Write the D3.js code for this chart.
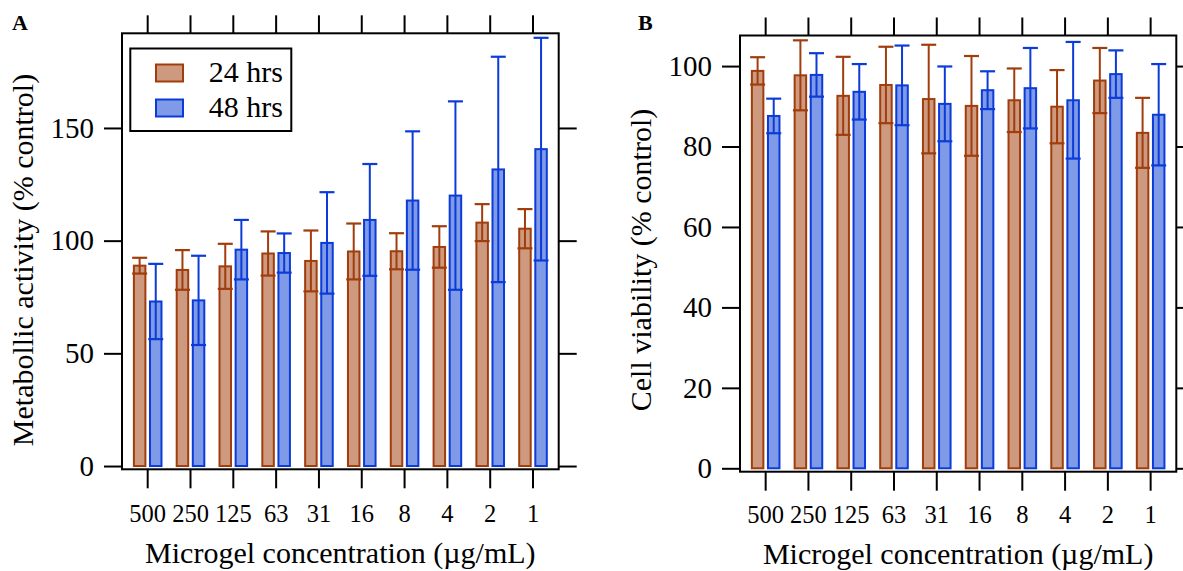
<!DOCTYPE html>
<html>
<head>
<meta charset="utf-8">
<script src="https://cdn.jsdelivr.net/npm/d3@7"></script>
<style>
  html, body { margin: 0; padding: 0; background: #fff; }
  svg { display: block; }
  text { font-family: "Liberation Serif", "DejaVu Serif", serif; fill: #000; }
</style>
</head>
<body>
<svg id="chart" width="1183" height="571"></svg>
<script>
// ---------- data ----------
const categories = ["500", "250", "125", "63", "31", "16", "8", "4", "2", "1"];
const seriesNames = ["24 hrs", "48 hrs"];

// Panel A: metabolic activity (% control)
const metab24 = [88.9, 87.0, 88.6, 94.3, 91.0, 95.2, 95.3, 97.2, 108.0, 105.3];
const metab24Err = [3.5, 8.8, 10.0, 9.8, 13.5, 12.4, 8.0, 9.2, 8.2, 8.7];
const metab48 = [73.0, 73.5, 96.0, 94.5, 99.0, 109.2, 117.8, 120.0, 131.6, 140.6];
const metab48Err = [16.7, 19.8, 13.2, 8.7, 22.5, 24.8, 30.7, 41.8, 50.0, 49.4];

// Panel B: cell viability (% control)
const viab24 = [98.8, 97.7, 92.6, 95.3, 91.8, 90.1, 91.5, 89.9, 96.4, 83.4];
const viab24Err = [3.4, 8.7, 9.7, 9.5, 13.5, 12.4, 7.9, 9.1, 8.1, 8.7];
const viab48 = [87.6, 97.8, 93.6, 95.2, 90.6, 94.0, 94.5, 91.5, 98.0, 87.9];
const viab48Err = [4.3, 5.4, 6.9, 9.9, 9.3, 4.7, 10.0, 14.5, 5.9, 12.6];

const ticksA = [0, 50, 100, 150];
const ticksB = [0, 20, 40, 60, 80, 100];

// ---------- styles ----------
const colors = {
  fill: ["#cd9a80", "#7f9be8"],
  stroke: ["#a13d0c", "#0b3bd8"]
};
const svg = d3.select("#chart");

function panel(opts) {
  const { x0, x1, yTop, yBot, yDomain, ticks, s24, e24, s48, e48, yLabel, letter, letterX, yLabelX, xLabelY, xTickY } = opts;
  const x = d3.scaleBand().domain(categories).range([x0, x1]).paddingInner(0).paddingOuter(0.1);
  const y = d3.scaleLinear().domain(yDomain).range([yBot, yTop]);
  const g = svg.append("g");

  const series = [
    { vals: s24, errs: e24, off: -13.8 },
    { vals: s48, errs: e48, off: 2.3 }
  ];
  const bw = 11.5, capHalf = 7.5;

  series.forEach((s, si) => {
    const data = categories.map((c, i) => ({ c, v: s.vals[i], e: s.errs[i] }));
    const sg = g.append("g");
    sg.selectAll("rect").data(data).join("rect")
      .attr("x", d => x(d.c) + x.bandwidth() / 2 + s.off)
      .attr("width", bw)
      .attr("y", d => y(d.v))
      .attr("height", d => y(0) - y(d.v))
      .attr("fill", colors.fill[si])
      .attr("stroke", colors.stroke[si])
      .attr("stroke-width", 2);
    const cx = d => x(d.c) + x.bandwidth() / 2 + s.off + bw / 2;
    sg.selectAll("line.v").data(data).join("line").attr("class", "v")
      .attr("x1", cx).attr("x2", cx)
      .attr("y1", d => y(d.v - d.e)).attr("y2", d => y(d.v + d.e))
      .attr("stroke", colors.stroke[si]).attr("stroke-width", 2);
    ["top", "bot"].forEach(k => {
      sg.selectAll("line." + k).data(data).join("line").attr("class", k)
        .attr("x1", d => cx(d) - capHalf).attr("x2", d => cx(d) + capHalf)
        .attr("y1", d => y(k === "top" ? d.v + d.e : d.v - d.e))
        .attr("y2", d => y(k === "top" ? d.v + d.e : d.v - d.e))
        .attr("stroke", colors.stroke[si]).attr("stroke-width", 2.2);
    });
  });

  // frame
  g.append("rect").attr("x", x0).attr("y", yTop).attr("width", x1 - x0).attr("height", yBot - yTop)
    .attr("fill", "none").attr("stroke", "#000").attr("stroke-width", 2);

  // axes
  const left = g.append("g").attr("transform", `translate(${x0},0)`)
    .call(d3.axisLeft(y).tickValues(ticks).tickSize(18).tickPadding(10));
  const right = g.append("g").attr("transform", `translate(${x1},0)`)
    .call(d3.axisRight(y).tickValues(ticks).tickSize(18).tickFormat(""));
  const top = g.append("g").attr("transform", `translate(0,${yTop})`)
    .call(d3.axisTop(x).tickSize(18).tickFormat(""));
  const bottom = g.append("g").attr("transform", `translate(0,${yBot})`)
    .call(d3.axisBottom(x).tickSize(19));
  [left, right, top, bottom].forEach(a => {
    a.select(".domain").remove();
    a.selectAll(".tick line").attr("stroke", "#000").attr("stroke-width", 2);
    a.selectAll("text").style("font-family", '"Liberation Serif", serif').attr("fill", "#000");
  });
  left.selectAll("text").style("font-size", "29px").attr("dy", "0.32em");
  bottom.selectAll("text").style("font-size", "24.5px").attr("y", xTickY).attr("dy", 0);

  // labels
  g.append("text").attr("x", (x0 + x1) / 2).attr("y", xLabelY).attr("text-anchor", "middle")
    .style("font-size", "30px").text("Microgel concentration (\u00b5g/mL)");
  g.append("text").attr("transform", `translate(${yLabelX},260) rotate(-90)`).attr("text-anchor", "middle")
    .style("font-size", "30px").text(yLabel);
  g.append("text").attr("x", letterX).attr("y", 30).style("font-size", "22px").style("font-weight", "bold")
    .text(letter);
  return { x, y, g };
}

panel({
  x0: 122, x1: 558.7, yTop: 33.3, yBot: 469.3, yDomain: [-1.45, 192], ticks: ticksA,
  s24: metab24, e24: metab24Err, s48: metab48, e48: metab48Err,
  yLabel: "Metabollic activity (% control)", letter: "A", letterX: 12, yLabelX: 33, xLabelY: 563, xTickY: 52.4
});
panel({
  x0: 740, x1: 1176.3, yTop: 35.5, yBot: 471.7, yDomain: [-0.845, 107.6], ticks: ticksB,
  s24: viab24, e24: viab24Err, s48: viab48, e48: viab48Err,
  yLabel: "Cell viability (% control)", letter: "B", letterX: 638, yLabelX: 651, xLabelY: 564, xTickY: 51.6
});

// legend (panel A)
const lg = svg.append("g");
lg.append("rect").attr("x", 130.3).attr("y", 48.5).attr("width", 161).attr("height", 82.5)
  .attr("fill", "#fff").attr("stroke", "#000").attr("stroke-width", 2);
seriesNames.forEach((n, i) => {
  lg.append("rect").attr("x", 156).attr("y", 64.5 + i * 35).attr("width", 27).attr("height", 17)
    .attr("fill", colors.fill[i]).attr("stroke", colors.stroke[i]).attr("stroke-width", 2);
  lg.append("text").attr("x", 208.8).attr("y", 81.7 + i * 35).style("font-size", "30px").text(n);
});
</script>
</body>
</html>
